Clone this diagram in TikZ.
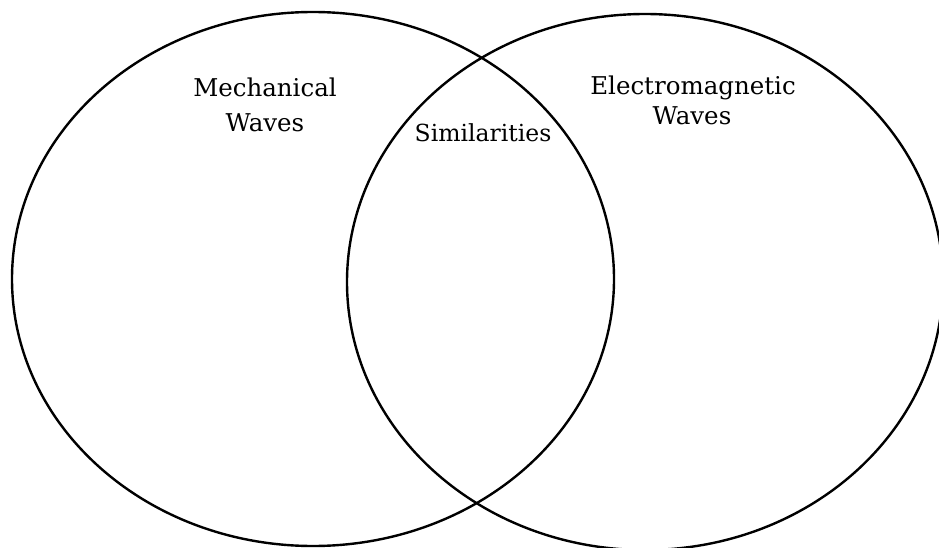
\documentclass[tikz,border=0pt]{standalone}
\usepackage{fontspec}
\setmainfont{DejaVu Serif}
\begin{document}
\begin{tikzpicture}[x=1pt,y=-1pt,
  ring/.style={draw=black,line width=2.4pt},
  lbl/.style={font=\fontsize{24.5}{28}\selectfont,inner sep=0pt,anchor=base},
  slbl/.style={font=\fontsize{23.5}{26}\selectfont,inner sep=0pt,anchor=base}]
\useasboundingbox (0,0) rectangle (939,548);
\clip (0,0) rectangle (939,548);
\draw[ring] (313,279) ellipse [x radius=301, y radius=267];
\draw[ring] (645,282) ellipse [x radius=298, y radius=268];
\node[lbl] (m1) at (265,97) {Mechanical};
\node[lbl] (m2) at (265,132) {Waves};
\node[slbl] (s) at (483,142) {Similarities};
\node[lbl] (e1) at (693,95) {Electromagnetic};
\node[lbl] (e2) at (692,125) {Waves};
\end{tikzpicture}
\end{document}
